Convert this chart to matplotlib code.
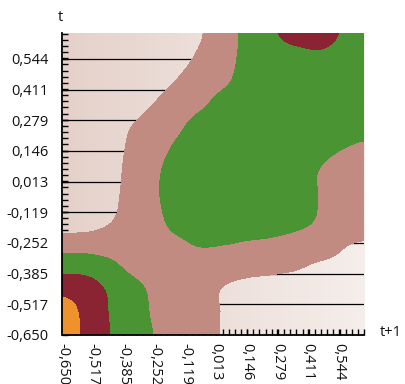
import numpy as np
import matplotlib
matplotlib.use("Agg")
import matplotlib.pyplot as plt
from matplotlib.colors import ListedColormap, BoundaryNorm, LinearSegmentedColormap
from matplotlib.ticker import FixedLocator, AutoMinorLocator

plt.rcParams['font.family'] = ['Open Sans', 'DejaVu Sans']

# Grid nodes of the surface (t+1 across, t down from the top row)
grid_x = [-0.65, -0.55, -0.45, -0.35, -0.25, -0.15, -0.05, 0.05, 0.15, 0.25, 0.35, 0.45, 0.55, 0.65]
grid_y = [0.65, 0.55, 0.45, 0.35, 0.25, 0.15, 0.05, -0.05, -0.15, -0.25, -0.35, -0.45, -0.55, -0.65]

# Surface values, one row per grid_y entry
density = [
    [-0.50, -0.50, -0.50, -0.50, -0.40, -0.20, 0.45, 1.10, 1.74, 2.33, 2.75, 2.80, 2.49, 2.20],
    [-0.50, -0.50, -0.50, -0.45, -0.33, 0.17, 0.68, 1.19, 1.74, 2.10, 2.23, 2.37, 2.30, 2.15],
    [-0.50, -0.50, -0.40, -0.20, 0.15, 0.55, 0.95, 1.35, 1.85, 2.05, 2.10, 2.15, 2.15, 2.10],
    [-0.50, -0.45, -0.25, 0.12, 0.53, 0.93, 1.34, 1.85, 2.05, 2.10, 2.10, 2.10, 2.10, 2.05],
    [-0.50, -0.30, 0.08, 0.51, 0.93, 1.35, 1.88, 2.10, 2.15, 2.15, 2.15, 2.10, 1.90, 1.75],
    [-0.50, -0.36, 0.15, 0.65, 1.15, 1.68, 1.95, 2.10, 2.15, 2.05, 1.90, 1.70, 1.52, 1.38],
    [-0.50, -0.43, 0.16, 0.75, 1.34, 1.92, 2.05, 2.10, 2.10, 2.00, 1.85, 1.52, 1.29, 1.18],
    [-0.45, -0.30, 0.23, 0.80, 1.37, 1.95, 2.05, 2.05, 2.00, 1.90, 1.75, 1.52, 1.06, 0.95],
    [-0.10, -0.02, 0.40, 0.85, 1.27, 1.80, 1.95, 1.95, 1.90, 1.85, 1.75, 1.47, 0.83, 0.73],
    [1.00, 1.00, 1.00, 1.05, 1.20, 1.40, 1.60, 1.57, 1.47, 1.40, 1.25, 1.04, 0.60, 0.49],
    [2.13, 2.06, 1.75, 1.30, 1.15, 1.20, 1.13, 0.97, 0.83, 0.75, 0.64, 0.44, 0.38, 0.30],
    [3.15, 3.00, 2.40, 1.80, 1.35, 1.10, 0.85, 0.47, 0.30, 0.25, 0.20, 0.20, 0.20, 0.20],
    [4.05, 3.25, 2.51, 1.95, 1.40, 1.10, 0.85, 0.45, 0.25, 0.20, 0.20, 0.20, 0.20, 0.20],
    [4.20, 3.31, 2.55, 2.00, 1.48, 1.15, 0.85, 0.45, 0.30, 0.25, 0.20, 0.20, 0.20, 0.20],
]

band_edges = [0.5, 1.5, 2.5, 3.5]
band_colors = ["#c28b82", "#4b9434", "#8a2433", "#f0922b"]

tick_values = [-0.650, -0.517, -0.385, -0.252, -0.119, 0.013, 0.146, 0.279, 0.411, 0.544]
axis_min, axis_max = -0.65, 0.655


def comma_label(v):
    return f"{v:.3f}".replace(".", ",")


fig = plt.figure(figsize=(4.06, 3.84), dpi=100)
ax = fig.add_axes([62.5 / 406, 49 / 384, 302 / 406, 301.7 / 384])

# Soft left-to-right wash behind the lowest band
wash = np.linspace(0.0, 1.0, 256)[None, :]
wash_cmap = LinearSegmentedColormap.from_list("wash", ["#e5d1ca", "#f5eeeb"])
ax.imshow(wash, cmap=wash_cmap, extent=[axis_min, axis_max, axis_min, axis_max],
          aspect="auto", interpolation="bilinear", zorder=0)

# Horizontal reference lines at the major t ticks
for v in tick_values[1:]:
    ax.axhline(v, color="black", lw=0.9, zorder=1)

# Banded surface; the lowest band is left transparent
Z = np.array(density)
step = grid_x[1] - grid_x[0]
extent = [grid_x[0] - step / 2, grid_x[-1] + step / 2,
          grid_y[-1] - step / 2, grid_y[0] + step / 2]
band_cmap = ListedColormap([(0, 0, 0, 0)] + band_colors)
band_norm = BoundaryNorm([-10.0] + band_edges + [10.0], band_cmap.N)
ax.imshow(Z, cmap=band_cmap, norm=band_norm, extent=extent, origin="upper",
          interpolation="catrom", interpolation_stage="data",
          aspect="auto", zorder=2)

ax.set_xlim(axis_min, axis_max)
ax.set_ylim(axis_min, axis_max)

for side in ("top", "right"):
    ax.spines[side].set_visible(False)
for side in ("left", "bottom"):
    ax.spines[side].set_linewidth(1.3)
    ax.spines[side].set_color("black")
    ax.spines[side].set_zorder(5)

for axis in (ax.xaxis, ax.yaxis):
    axis.set_major_locator(FixedLocator(tick_values))
    axis.set_minor_locator(AutoMinorLocator(5))

ax.set_xticklabels([comma_label(v) for v in tick_values], rotation=-90)
ax.set_yticklabels([comma_label(v) for v in tick_values])

ax.tick_params(which="both", direction="in", length=4.5, width=1.0,
               color="black", top=False, right=False, zorder=5)
ax.tick_params(axis="y", which="major", pad=10, labelsize=10.5, labelcolor="#111111")
ax.tick_params(axis="x", which="major", pad=5.5, labelsize=10.5, labelcolor="#111111")

fig.text(60.3 / 406, 1 - 17.5 / 384, "t", ha="center", va="center", fontsize=10.5, color="#111111")
fig.text(380 / 406, 1 - 332.5 / 384, "t+1", ha="left", va="center", fontsize=10.5, color="#111111")

fig.savefig("out.png", dpi=100)
